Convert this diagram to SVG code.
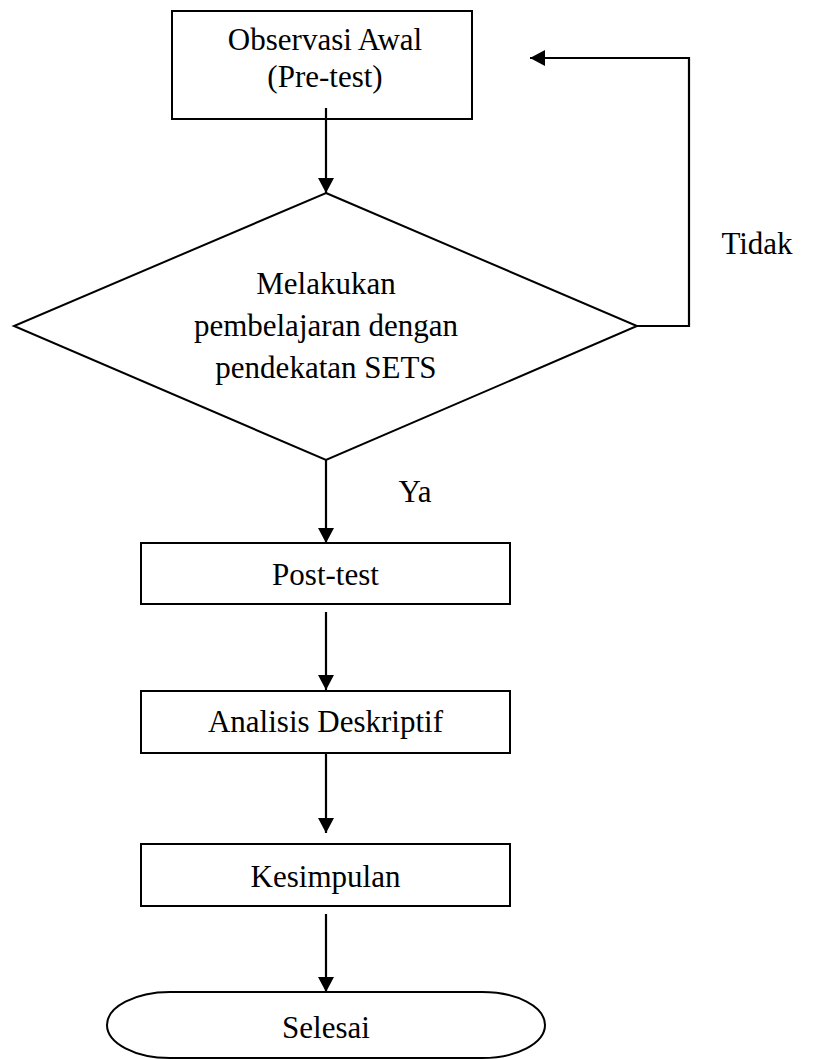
<svg xmlns="http://www.w3.org/2000/svg" width="820" height="1059" viewBox="0 0 820 1059">
<style>
.s{fill:#fff;stroke:#000;stroke-width:2}
.c{fill:none;stroke:#000;stroke-width:2.2}
.t{font-family:"Liberation Serif","Times New Roman",serif;font-size:31px;fill:#000;text-anchor:middle}
</style>
<defs>
<marker id="ah" markerUnits="userSpaceOnUse" markerWidth="16" markerHeight="16" viewBox="0 0 16 16" refX="15" refY="8" orient="auto">
<path d="M0,0 L15,8 L0,16 Z" fill="#000"/>
</marker>
</defs>
<rect width="820" height="1059" fill="#fff"/>
<g id="n-observasi">
<rect class="s" x="172" y="11" width="300" height="108"/>
<text class="t" x="325" y="50">Observasi Awal</text>
<text class="t" x="325" y="87">(Pre-test)</text>
</g>
<g id="n-melakukan">
<polygon class="s" points="326,193 637,326 326,460 14,326"/>
<text class="t" x="326" y="294">Melakukan</text>
<text class="t" x="326" y="336">pembelajaran dengan</text>
<text class="t" x="326" y="378">pendekatan SETS</text>
</g>
<g id="n-posttest">
<rect class="s" x="141" y="543" width="369" height="61"/>
<text class="t" x="325.5" y="585">Post-test</text>
</g>
<g id="n-analisis">
<rect class="s" x="141" y="691" width="369" height="62"/>
<text class="t" x="325.5" y="732">Analisis Deskriptif</text>
</g>
<g id="n-kesimpulan">
<rect class="s" x="141" y="844" width="369" height="62"/>
<text class="t" x="325.5" y="887">Kesimpulan</text>
</g>
<g id="n-selesai">
<path class="s" d="M170,992 H482 A63,33 0 0 1 482,1058 H170 A63,33 0 0 1 170,992 Z"/>
<text class="t" x="326" y="1038">Selesai</text>
</g>
<g id="connectors">
<line class="c" x1="326" y1="108" x2="326" y2="193" marker-end="url(#ah)"/>
<polyline class="c" points="637,326 689,326 689,58 530,58" marker-end="url(#ah)"/>
<line class="c" x1="326" y1="460" x2="326" y2="543" marker-end="url(#ah)"/>
<line class="c" x1="326" y1="612" x2="326" y2="690" marker-end="url(#ah)"/>
<line class="c" x1="326" y1="753" x2="326" y2="833" marker-end="url(#ah)"/>
<line class="c" x1="326" y1="914" x2="326" y2="992" marker-end="url(#ah)"/>
</g>
<g id="labels">
<text class="t" x="757" y="254">Tidak</text>
<text class="t" x="415" y="502">Ya</text>
</g>
</svg>
